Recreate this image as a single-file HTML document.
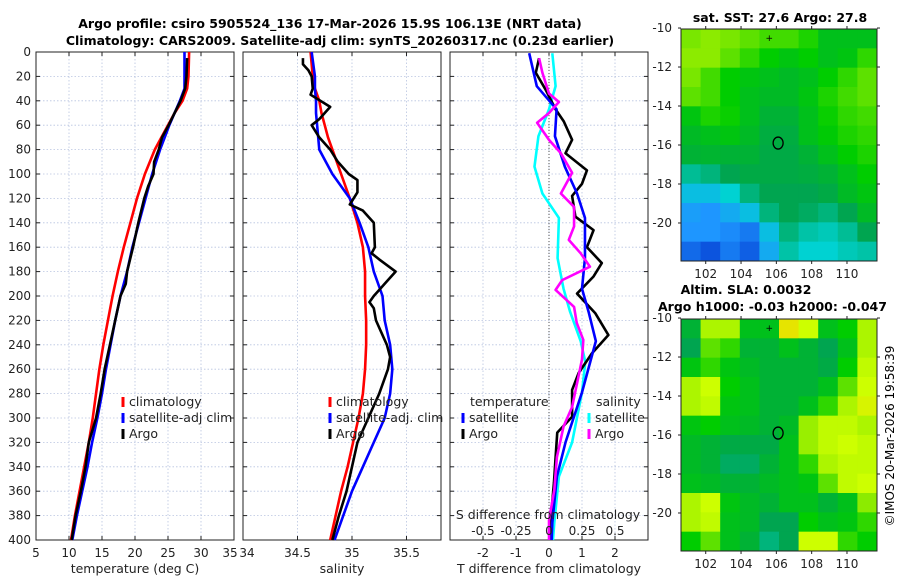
<!DOCTYPE html>
<html><head><meta charset="utf-8"><style>
body{margin:0;background:#fff;}
svg{display:block;font-family:"DejaVu Sans","Liberation Sans",sans-serif;}
</style></head><body>
<svg id="fig" width="900" height="580" viewBox="0 0 900 580">
<text x="330" y="28" font-size="12.5" font-weight="bold" text-anchor="middle">Argo profile: csiro 5905524_136 17-Mar-2026 15.9S 106.13E (NRT data)</text>
<text x="340" y="45" font-size="12.5" font-weight="bold" text-anchor="middle">Climatology: CARS2009. Satellite-adj clim: synTS_20260317.nc (0.23d earlier)</text>
<text x="780" y="22" font-size="12.5" font-weight="bold" text-anchor="middle">sat. SST: 27.6 Argo: 27.8</text>
<text x="746" y="294" font-size="12.5" font-weight="bold" text-anchor="middle">Altim. SLA: 0.0032</text>
<text x="658" y="311" font-size="12.5" font-weight="bold">Argo h1000: -0.03 h2000: -0.047</text>
<text transform="translate(894,436) rotate(-90)" font-size="12" text-anchor="middle">©IMOS 20-Mar-2026 19:58:39</text>
<g id="g"></g>
</svg>
<script>
// depth grid for climatology / satellite profiles
const depthsA = [0,20,30,40,50,60,70,80,100,120,140,160,180,200,220,240,260,280,300,320,340,360,380,400];
const tempClim = [28.2,28.1,27.9,27.2,26.0,25.0,24.0,23.0,21.5,20.3,19.3,18.3,17.4,16.6,15.9,15.2,14.6,14.1,13.6,13.0,12.3,11.6,10.9,10.3];
const tempSat  = [27.5,27.5,27.5,26.8,26.0,25.2,24.5,23.8,22.6,21.6,20.6,19.6,18.8,17.8,17.0,16.3,15.6,15.0,14.3,13.5,12.8,12.0,11.2,10.5];
const depthsArgoT = [5,20,30,40,50,60,70,80,90,100,110,120,140,160,180,190,200,220,240,260,280,300,320,340,360,380,400];
const tempArgo = [27.9,27.8,27.6,26.9,26.0,25.1,24.1,23.6,22.9,22.8,22.0,21.4,20.5,19.7,18.8,18.6,17.8,17.0,16.2,15.4,14.8,14.1,13.0,12.5,11.8,11.0,10.4];
const salClim = [34.62,34.64,34.66,34.70,34.72,34.75,34.78,34.82,34.90,34.98,35.05,35.10,35.12,35.12,35.13,35.13,35.12,35.10,35.06,35.01,34.96,34.90,34.85,34.80];
const salSat  = [34.63,34.66,34.66,34.67,34.67,34.68,34.69,34.70,34.82,34.98,35.07,35.15,35.20,35.28,35.30,35.35,35.37,35.35,35.30,35.20,35.10,35.00,34.92,34.84];
const depthsArgoS = [5,10,15,20,30,35,45,55,60,70,80,90,100,105,115,125,130,140,160,165,170,180,190,200,205,210,220,240,250,260,280,300,320,340,360,380,400];
const salArgo = [34.55,34.55,34.60,34.63,34.64,34.62,34.80,34.70,34.63,34.70,34.80,34.87,34.97,35.05,35.05,34.98,35.10,35.20,35.21,35.18,35.25,35.40,35.30,35.20,35.16,35.20,35.22,35.32,35.35,35.33,35.25,35.15,35.05,35.00,34.95,34.88,34.82];
// difference panel
const depthsD1 = [1,28,47,69,94,116,136,169,194,213,237,254,279,320,348,386,400];
const tDiffSat = [-0.6,-0.37,0.23,0.18,0.48,0.85,1.09,1.09,1.0,1.2,1.42,1.25,1.0,0.5,0.24,0.1,0.08];
const sDiffSat = [0.025,0.05,0.0,-0.08,-0.11,-0.05,0.075,0.065,0.11,0.16,0.24,0.275,0.25,0.175,0.075,0.04,0.03];
const depthsD2 = [5,17,31,47,57,72,83,97,108,118,135,146,160,173,184,198,214,232,247,263,277,299,312,332,353,384,400];
const tDiffArgo = [-0.3,-0.4,-0.1,0.2,0.45,0.7,0.5,1.15,1.0,0.7,0.8,1.35,1.15,1.6,1.35,0.85,1.4,1.8,1.3,0.9,0.7,0.7,0.25,0.2,0.15,0.05,0.03];
const depthsD3 = [5,17,34,41,50,58,72,83,99,116,127,143,154,165,176,187,195,209,222,236,252,291,307,332,359,384,400];
const sDiffArgo = [-0.075,-0.05,0.0,0.075,0.0,-0.09,0.0,0.09,0.175,0.09,0.19,0.19,0.15,0.24,0.31,0.1,0.05,0.19,0.21,0.26,0.25,0.175,0.11,0.06,0.04,0.0,0.0];
const depthTicks = [0,20,40,60,80,100,120,140,160,180,200,220,240,260,280,300,320,340,360,380,400];
const tempTicks = [5,10,15,20,25,30,35];
const salTicks = [34,34.5,35,35.5];
const tdTicks = [-2,-1,0,1,2];
const sdTickLabels = ["-0.5","-0.25","0","0.25","0.5"];
// maps (normalised colour values, rows north->south)
const sstGrid = [
[.78,.8,.78,.75,.72,.72,.68,.6,.6,.6],[.8,.8,.75,.7,.65,.62,.65,.6,.62,.7],[.78,.72,.65,.62,.6,.58,.6,.65,.7,.75],
[.75,.72,.65,.6,.58,.58,.62,.68,.72,.75],[.62,.68,.66,.6,.55,.55,.6,.66,.7,.72],[.58,.6,.62,.58,.53,.53,.6,.64,.68,.7],
[.55,.56,.55,.55,.52,.52,.55,.6,.65,.68],[.42,.45,.5,.52,.52,.52,.53,.55,.6,.65],[.3,.3,.35,.45,.5,.5,.5,.52,.58,.62],
[.22,.2,.25,.3,.45,.5,.48,.45,.5,.58],[.2,.2,.18,.15,.3,.45,.4,.38,.42,.5],[.12,.08,.15,.1,.25,.4,.35,.35,.38,.4]];
const slaGrid = [
[.55,.85,.85,.6,.6,.95,.9,.6,.65,.85],[.5,.75,.7,.55,.55,.6,.55,.5,.6,.85],[.62,.7,.62,.58,.55,.55,.55,.52,.65,.88],
[.85,.9,.65,.6,.55,.55,.55,.6,.75,.9],[.85,.88,.62,.6,.55,.55,.6,.7,.85,.92],[.62,.65,.6,.58,.55,.58,.82,.88,.88,.85],
[.58,.55,.52,.52,.52,.6,.82,.88,.9,.88],[.58,.55,.48,.48,.55,.6,.7,.85,.88,.88],[.6,.58,.55,.55,.58,.6,.62,.75,.88,.9],
[.85,.9,.62,.58,.55,.6,.6,.55,.6,.8],[.85,.88,.6,.58,.5,.5,.65,.6,.62,.7],[.65,.75,.6,.55,.45,.5,.9,.9,.7,.65]];
const lonTicks = [102,104,106,108,110];
const latTicks = [-10,-12,-14,-16,-18,-20];
const floatPos = [106.1,-15.9];

const NS="http://www.w3.org/2000/svg", G=document.getElementById('g');
function mk(tag,attrs,parent){const e=document.createElementNS(NS,tag);for(const k in attrs)e.setAttribute(k,attrs[k]);(parent||G).appendChild(e);return e;}
const Y0=52,Y1=540;
const yD=d=>Y0+d/400*(Y1-Y0);
const panels=[{x0:36,x1:234,lo:5,hi:35},{x0:243,x1:441,lo:34,hi:35.8167},{x0:450,x1:648,lo:-3,hi:3}];
function sx(p,v){return p.x0+(v-p.lo)/(p.hi-p.lo)*(p.x1-p.x0);}
function txt(x,y,s,o){const t=mk('text',Object.assign({x:x,y:y,'font-size':12,fill:'#222'},o||{}));t.textContent=s;return t;}
function panelFrame(p,i,xt,name){
  const g=mk('g',{});
  
  
  depthTicks.forEach(d=>{mk('line',{x1:p.x0,x2:p.x1,y1:yD(d),y2:yD(d),stroke:'#b8c4e0','stroke-width':0.8,'stroke-dasharray':'1.5 2'},g);
    mk('line',{x1:p.x0,x2:p.x0+4,y1:yD(d),y2:yD(d),stroke:'#222'},g);mk('line',{x1:p.x1,x2:p.x1-4,y1:yD(d),y2:yD(d),stroke:'#222'},g);});
  xt.forEach(v=>{const x=sx(p,v);mk('line',{x1:x,x2:x,y1:Y0,y2:Y1,stroke:'#b8c4e0','stroke-width':0.8,'stroke-dasharray':'1.5 2'},g);
    mk('line',{x1:x,x2:x,y1:Y1,y2:Y1-4,stroke:'#222'},g);mk('line',{x1:x,x2:x,y1:Y0,y2:Y0+4,stroke:'#222'},g);});
  mk('rect',{x:p.x0,y:Y0,width:p.x1-p.x0,height:Y1-Y0,fill:'none',stroke:'#222','stroke-width':1},g);
  return g;
}
function line(p,ds,vs,col,name,scale){
  const pts=ds.map((d,i)=>sx(p,vs[i]*(scale||1))+','+yD(d)).join(' ');
  const e=mk('polyline',{points:pts,fill:'none',stroke:col,'stroke-width':2.6,'stroke-linejoin':'round'});
  
  
}
// panel 1
panelFrame(panels[0],0,tempTicks,'temperature-panel');
depthTicks.forEach(d=>{const t=txt(31,yD(d)+4,String(d),{'text-anchor':'end'});});
tempTicks.forEach(v=>{const t=txt(sx(panels[0],v)-(v==35?4:0),557,String(v),{'text-anchor':'middle'});});
line(panels[0],depthsA,tempClim,'#ff0000','temp-climatology-line');
line(panels[0],depthsA,tempSat,'#0000ff','temp-satellite-line');
line(panels[0],depthsArgoT,tempArgo,'#000','temp-argo-line');
let t=txt(135,573,'temperature (deg C)',{'text-anchor':'middle','font-size':12.5});
// panel 2
panelFrame(panels[1],1,salTicks,'salinity-panel');
salTicks.forEach(v=>{const t=txt(sx(panels[1],v)+(v==34?4:0),557,String(v),{'text-anchor':'middle'});});
line(panels[1],depthsA,salClim,'#ff0000','sal-climatology-line');
line(panels[1],depthsA,salSat,'#0000ff','sal-satellite-line');
line(panels[1],depthsArgoS,salArgo,'#000','sal-argo-line');
t=txt(342,573,'salinity',{'text-anchor':'middle','font-size':12.5});
// panel 3
panelFrame(panels[2],2,tdTicks,'difference-panel');
mk('line',{x1:549,x2:549,y1:Y0,y2:Y1,stroke:'#555','stroke-width':1,'stroke-dasharray':'1 2'});
line(panels[2],depthsD1,sDiffSat,'#00ffff','sal-diff-satellite-line',4);
line(panels[2],depthsD2,tDiffArgo,'#000','temp-diff-argo-line');
line(panels[2],depthsD1,tDiffSat,'#0000ff','temp-diff-satellite-line');
line(panels[2],depthsD3,sDiffArgo,'#ff00ff','sal-diff-argo-line',4);
tdTicks.forEach((v,i)=>{let t=txt(sx(panels[2],v),557,String(v),{'text-anchor':'middle'});
  t=txt(sx(panels[2],v),535,sdTickLabels[i],{'text-anchor':'middle'});});
t=txt(548,519,'S difference from climatology',{'text-anchor':'middle','font-size':12.5});
t=txt(549,573,'T difference from climatology',{'text-anchor':'middle','font-size':12.5});
// legends
function leg(x,y,col,label,name){const g=mk('g',{});
  mk('line',{x1:x,x2:x,y1:y-9,y2:y+1,stroke:col,'stroke-width':3},g);const tt=txt(x+6,y,label,{'font-size':12.5});g.appendChild(tt);}
leg(123,406,'#ff0000','climatology','legend-climatology');leg(123,422,'#0000ff','satellite-adj clim','legend-satellite-adj');leg(123,438,'#000','Argo','legend-argo');
leg(330,406,'#ff0000','climatology','legend-sal-climatology');leg(330,422,'#0000ff','satellite-adj. clim','legend-sal-satellite');leg(330,438,'#000','Argo','legend-sal-argo');
t=txt(470,406,'temperature',{'font-size':12.5});
t=txt(596,406,'salinity',{'font-size':12.5});
leg(463,422,'#0000ff','satellite','legend-tdiff-satellite');leg(463,438,'#000','Argo','legend-tdiff-argo');
leg(589,422,'#00ffff','satellite','legend-sdiff-satellite');leg(589,438,'#ff00ff','Argo','legend-sdiff-argo');
// maps
const stops=[[0,[0,40,200]],[0.2,[30,150,255]],[0.35,[0,210,210]],[0.5,[0,165,80]],[0.65,[0,205,0]],[0.8,[140,235,0]],[0.9,[205,255,0]],[1,[255,200,0]]];
function cmap(v){for(let i=1;i<stops.length;i++){if(v<=stops[i][0]){const a=stops[i-1],b=stops[i],f=(v-a[0])/(b[0]-a[0]);return 'rgb('+a[1].map((c,k)=>Math.round(c+(b[1][k]-c)*f)).join(',')+')';}}return 'rgb(255,200,0)';}
function drawMap(grid,top,name){
  const L=681,R=877,B=top+232,lonL=100.6,lonR=111.7;
  const mx=lon=>L+(lon-lonL)/(lonR-lonL)*(R-L), my=lat=>top+(-10.05-lat)/11.9*(B-top);
  const g=mk('g',{});
  const nr=grid.length,nc=grid[0].length,cw=(R-L)/nc,ch=(B-top)/nr;
  grid.forEach((row,r)=>row.forEach((v,c)=>{const e=mk('rect',{x:L+c*cw,y:top+r*ch,width:cw+0.5,height:ch+0.5,fill:cmap(v)},g);
    }));
  mk('rect',{x:L,y:top,width:R-L,height:B-top,fill:'none',stroke:'#222'},g);
  lonTicks.forEach(v=>{const x=mx(v);mk('line',{x1:x,x2:x,y1:B,y2:B+3,stroke:'#222'},g);mk('line',{x1:x,x2:x,y1:top,y2:top-3,stroke:'#222'},g);
    const tt=txt(x,B+17,String(v),{'text-anchor':'middle','font-size':12});});
  latTicks.forEach(v=>{const y=my(v);mk('line',{x1:L,x2:L-3,y1:y,y2:y,stroke:'#222'},g);mk('line',{x1:R,x2:R+3,y1:y,y2:y,stroke:'#222'},g);
    const tt=txt(672,y+4,String(v),{'text-anchor':'end','font-size':12});});
  const c=mk('ellipse',{cx:mx(floatPos[0]),cy:my(floatPos[1]),rx:5,ry:6,fill:'none',stroke:'#000','stroke-width':1.3},g);
  
  mk('text',{x:mx(105.6),y:my(-10.5)+3,'font-size':9,'text-anchor':'middle'},g).textContent='+';
}
drawMap(sstGrid,29,'sst-map');
drawMap(slaGrid,319,'sla-map');
</script>
</body></html>
